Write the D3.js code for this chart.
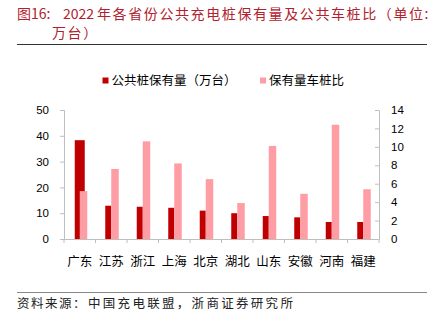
<!DOCTYPE html>
<html><head><meta charset="utf-8">
<script src="https://cdn.jsdelivr.net/npm/d3@7/dist/d3.min.js"></script>
<style>body{margin:0;background:#fff}svg{display:block}</style>
</head><body>
<svg id="c" width="434" height="323"></svg>
<script>
const categories = ["广东","江苏","浙江","上海","北京","湖北","山东","安徽","河南","福建"];
const chargers = [38.3, 12.9, 12.5, 12.1, 11.0, 10.0, 8.9, 8.4, 6.6, 6.6];
const ratio = [5.2, 7.6, 10.6, 8.2, 6.5, 3.9, 10.1, 4.9, 12.4, 5.4];
const leftTicks = [0,10,20,30,40,50];
const rightTicks = [0,2,4,6,8,10,12,14];
const seriesNames = ["公共桩保有量（万台）","保有量车桩比"];

const svg = d3.select("#c");
const cjk = "'Noto Sans CJK SC', sans-serif";
const num = "'Liberation Sans', Arial, sans-serif";
const dark = "#C00000", light = "#FF9DA5", axisC = "#BFBFBF";

// Title
const titleC = "#B0222E";
svg.append("text").attr("x",17).attr("y",19).attr("fill",titleC).attr("font-family",cjk).attr("font-size",14).text("图16:");
svg.append("text").attr("x",63).attr("y",19).attr("fill",titleC).attr("font-family",cjk).attr("font-size",14).text("2022");
svg.append("text").attr("x",97).attr("y",19).attr("fill",titleC).attr("font-family",cjk).attr("font-size",14).attr("letter-spacing",1.6).text("年各省份公共充电桩保有量及公共车桩比（单位:");
svg.append("text").attr("x",52).attr("y",38).attr("fill",titleC).attr("font-family",cjk).attr("font-size",14).attr("letter-spacing",1.6).text("万台）");
svg.append("line").attr("x1",17).attr("x2",427).attr("y1",44.5).attr("y2",44.5).attr("stroke","#333").attr("stroke-width",1);

// Scales
const x = d3.scaleBand().domain(categories).range([64,379]).paddingInner(0).paddingOuter(0);
const yL = d3.scaleLinear().domain([0,50]).range([239,110]);
const yR = d3.scaleLinear().domain([0,14]).range([239,110]);

// Axes
const gL = svg.append("g").attr("transform","translate(64,0)")
  .call(d3.axisLeft(yL).tickValues(leftTicks).tickSize(4).tickPadding(11));
const gR = svg.append("g").attr("transform","translate(379,0)")
  .call(d3.axisRight(yR).tickValues(rightTicks).tickSize(0).tickPadding(12));
gR.selectAll(".tick").append("line").attr("x1",-4).attr("x2",0).attr("stroke",axisC);
const gX = svg.append("g").attr("transform","translate(0,239)")
  .call(d3.axisBottom(x).tickSize(0).tickPadding(18));
[gL,gR,gX].forEach(g=>{
  g.select(".domain").attr("stroke",axisC);
  g.selectAll(".tick line").attr("stroke",axisC);
  g.selectAll("text").attr("fill","#000");
});
gL.selectAll("text").attr("font-family",num).attr("font-size",11.5);
gR.selectAll("text").attr("font-family",num).attr("font-size",11.5);
gX.selectAll("text").attr("font-family",cjk).attr("font-size",12.5);
// band boundary ticks on x axis
const bounds = categories.map(c=>x(c)).concat([x.range()[1]]);
svg.append("g").selectAll("line").data(bounds).join("line")
  .attr("x1",d=>d).attr("x2",d=>d).attr("y1",239).attr("y2",243).attr("stroke",axisC);

// Bars
const cx = c => x(c) + x.bandwidth()/2;
svg.append("g").selectAll("rect").data(categories).join("rect")
  .attr("x",(c,i)=> i===0 ? cx(c)-5 : cx(c)-6)
  .attr("width",(c,i)=> i===0 ? 10 : 6)
  .attr("y",(c,i)=>yL(chargers[i]))
  .attr("height",(c,i)=>yL(0)-yL(chargers[i]))
  .attr("fill",dark);
svg.append("g").selectAll("rect").data(categories).join("rect")
  .attr("x",c=>cx(c))
  .attr("width",7.5)
  .attr("y",(c,i)=>yR(ratio[i]))
  .attr("height",(c,i)=>yR(0)-yR(ratio[i]))
  .attr("fill",light);

// Legend
const leg = [{x:102.5,c:dark,t:seriesNames[0]},{x:260,c:light,t:seriesNames[1]}];
leg.forEach(l=>{
  svg.append("rect").attr("x",l.x).attr("y",77.5).attr("width",6).attr("height",6).attr("fill",l.c);
  svg.append("text").attr("x",l.x+9).attr("y",85).attr("font-family",cjk).attr("font-size",12.5).attr("fill","#000").text(l.t);
});

// Source
svg.append("line").attr("x1",17).attr("x2",427).attr("y1",292.5).attr("y2",292.5).attr("stroke","#888").attr("stroke-width",1);
svg.append("text").attr("x",17).attr("y",308).attr("font-family",cjk).attr("font-size",12.5).attr("fill","#222").attr("letter-spacing",1.5).text("资料来源：");
svg.append("text").attr("x",88).attr("y",308).attr("font-family",cjk).attr("font-size",12.5).attr("fill","#222").attr("letter-spacing",2.3).text("中国充电联盟，浙商证券研究所");
</script>
</body></html>
